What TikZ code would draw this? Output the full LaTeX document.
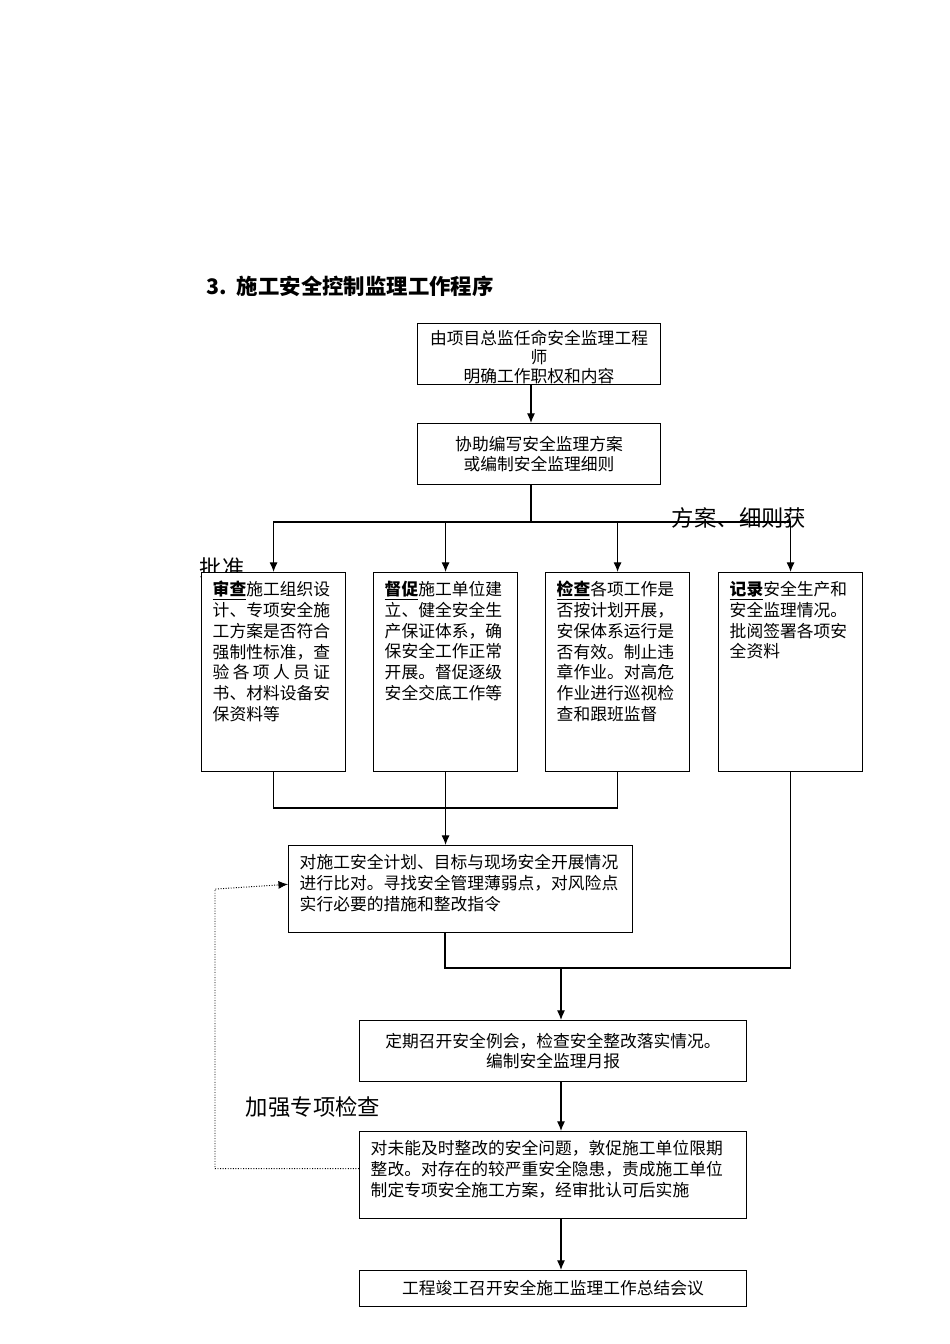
\documentclass[tikz,border=0pt]{standalone}
\usepackage{fontspec}
\setmainfont{Noto Sans CJK SC}
\usepackage{tikz}
\usetikzlibrary{positioning,calc,arrows.meta}
\newcommand\pxu{0.6263pt}
\tikzset{
    >={Latex[length=6pt,width=5pt]},
    flowbox/.style={
        rectangle,
        draw, line width=0.7pt,
        fill=white,
        align=center,
        anchor=north west,
        inner sep=0pt,
        font={\fontsize{10.5pt}{12pt}\selectfont}
    },
    tallbox/.style 2 args={
        rectangle,
        draw, line width=0.7pt,
        fill=white,
        anchor=north west,
        inner xsep=7pt, inner ysep=5.5pt,
        font={\fontsize{10.5pt}{13pt}\selectfont},
        execute at begin node={\begin{minipage}[c][#2][t]{#1}},
        execute at end node={\end{minipage}}
    },
    remark/.style={font={\fontsize{14pt}{16pt}\selectfont}},
    flow/.style={draw, line width=0.7pt},
    feedback/.style={draw, densely dotted, line width=0.6pt, ->},
}
\newcommand\lead[1]{\underline{\textbf{#1}}}

\begin{document}
\begin{tikzpicture}[x=\pxu, y=-\pxu]
    \useasboundingbox (0,0) rectangle (950,1344);

    \node[anchor=west, font={\fontsize{13.4pt}{16pt}\selectfont\bfseries}] (title) at (201,286)
        {3.\ \ 施工安全控制监理工作程序};

    % the two boxes at the top
    \node[flowbox, minimum width=243*\pxu, minimum height=61*\pxu] (s1) at (417,323)
        {\rule{0pt}{13pt}由项目总监任命安全监理工程\\师\\明确工作职权和内容};
    \node[flowbox, minimum width=243*\pxu, minimum height=61*\pxu] (s2) at (417,423)
        {协助编写安全监理方案\\或编制安全监理细则};

    % labels, drawn before the boxes that cover them
    \node[remark] (approve)  at (222,568) {批准};
    \node[remark] (approved) at (739,518) {方案、细则获};
    \node[remark] (special)  at (313,1107) {加强专项检查};

    % the four tasks
    \node[tallbox={76.2pt}{113.6pt}] (rev) at (201,572)
        {\lead{审查}施工组织设\\计、专项安全施\\工方案是否符合\\强制性标准，查\\
         \makebox[7em][s]{验\hfil 各\hfil 项\hfil 人\hfil 员\hfil 证}\\书、材料设备安\\保资料等};
    \node[tallbox={76.2pt}{113.6pt}] (urg) at (373,572)
        {\lead{督促}施工单位建\\立、健全安全生\\产保证体系，确\\保安全工作正常\\开展。督促逐级\\安全交底工作等};
    \node[tallbox={76.2pt}{113.6pt}] (chk) at (545,572)
        {\lead{检查}各项工作是\\否按计划开展，\\安保体系运行是\\否有效。制止违\\章作业。对高危\\作业进行巡视检\\查和跟班监督};
    \node[tallbox={76.2pt}{113.6pt}] (rec) at (718,572)
        {\lead{记录}安全生产和\\安全监理情况。\\批阅签署各项安\\全资料};

    \node[tallbox={201.4pt}{43.5pt}] (cmp) at (288,845)
        {对施工安全计划、目标与现场安全开展情况\\进行比对。寻找安全管理薄弱点，对风险点\\实行必要的措施和整改指令};
    \node[flowbox, minimum width=387*\pxu, minimum height=61*\pxu] (meet) at (359,1020)
        {定期召开安全例会，检查安全整改落实情况。\\编制安全监理月报};
    \node[tallbox={228.4pt}{43.5pt}] (fix) at (359,1131)
        {对未能及时整改的安全问题，敦促施工单位限期\\整改。对存在的较严重安全隐患，责成施工单位\\制定专项安全施工方案，经审批认可后实施};
    \node[flowbox, minimum width=387*\pxu, minimum height=36*\pxu] (fin) at (359,1270)
        {工程竣工召开安全施工监理工作总结会议};

    % branch and join points
    \coordinate (split) at (531,522);
    \coordinate (joinA) at (445,808);
    \coordinate (joinB) at (561,968);
    \coordinate (back)  at (215,0);

    \draw[flow, ->] (s1.south -| split) -- (s2.north -| split);
    \draw[flow] (s2.south -| split) -- (split);
    \draw[flow, ->] (split) -| (rev.north);
    \draw[flow, ->] (split) -| (urg.north);
    \draw[flow, ->] (split) -| (chk.north);
    \draw[flow, ->] (split) -| (rec.north);

    \draw[flow] (rev.south) |- (joinA);
    \draw[flow] (chk.south) |- (joinA);
    \draw[flow, ->] (urg.south) -- (urg.south |- cmp.north);

    \draw[flow] (cmp.south -| joinA) |- (joinB);
    \draw[flow] (rec.south) |- (joinB);
    \draw[flow, ->] (joinB) -- (meet.north -| joinB);
    \draw[flow, ->] (meet.south -| joinB) -- (fix.north -| joinB);
    \draw[flow, ->] (fix.south -| joinB) -- (fin.north -| joinB);

    \draw[feedback] ([yshift=4pt]fix.west) -| (back |- cmp.west) -- ([yshift=3pt]cmp.west);
\end{tikzpicture}
\end{document}
